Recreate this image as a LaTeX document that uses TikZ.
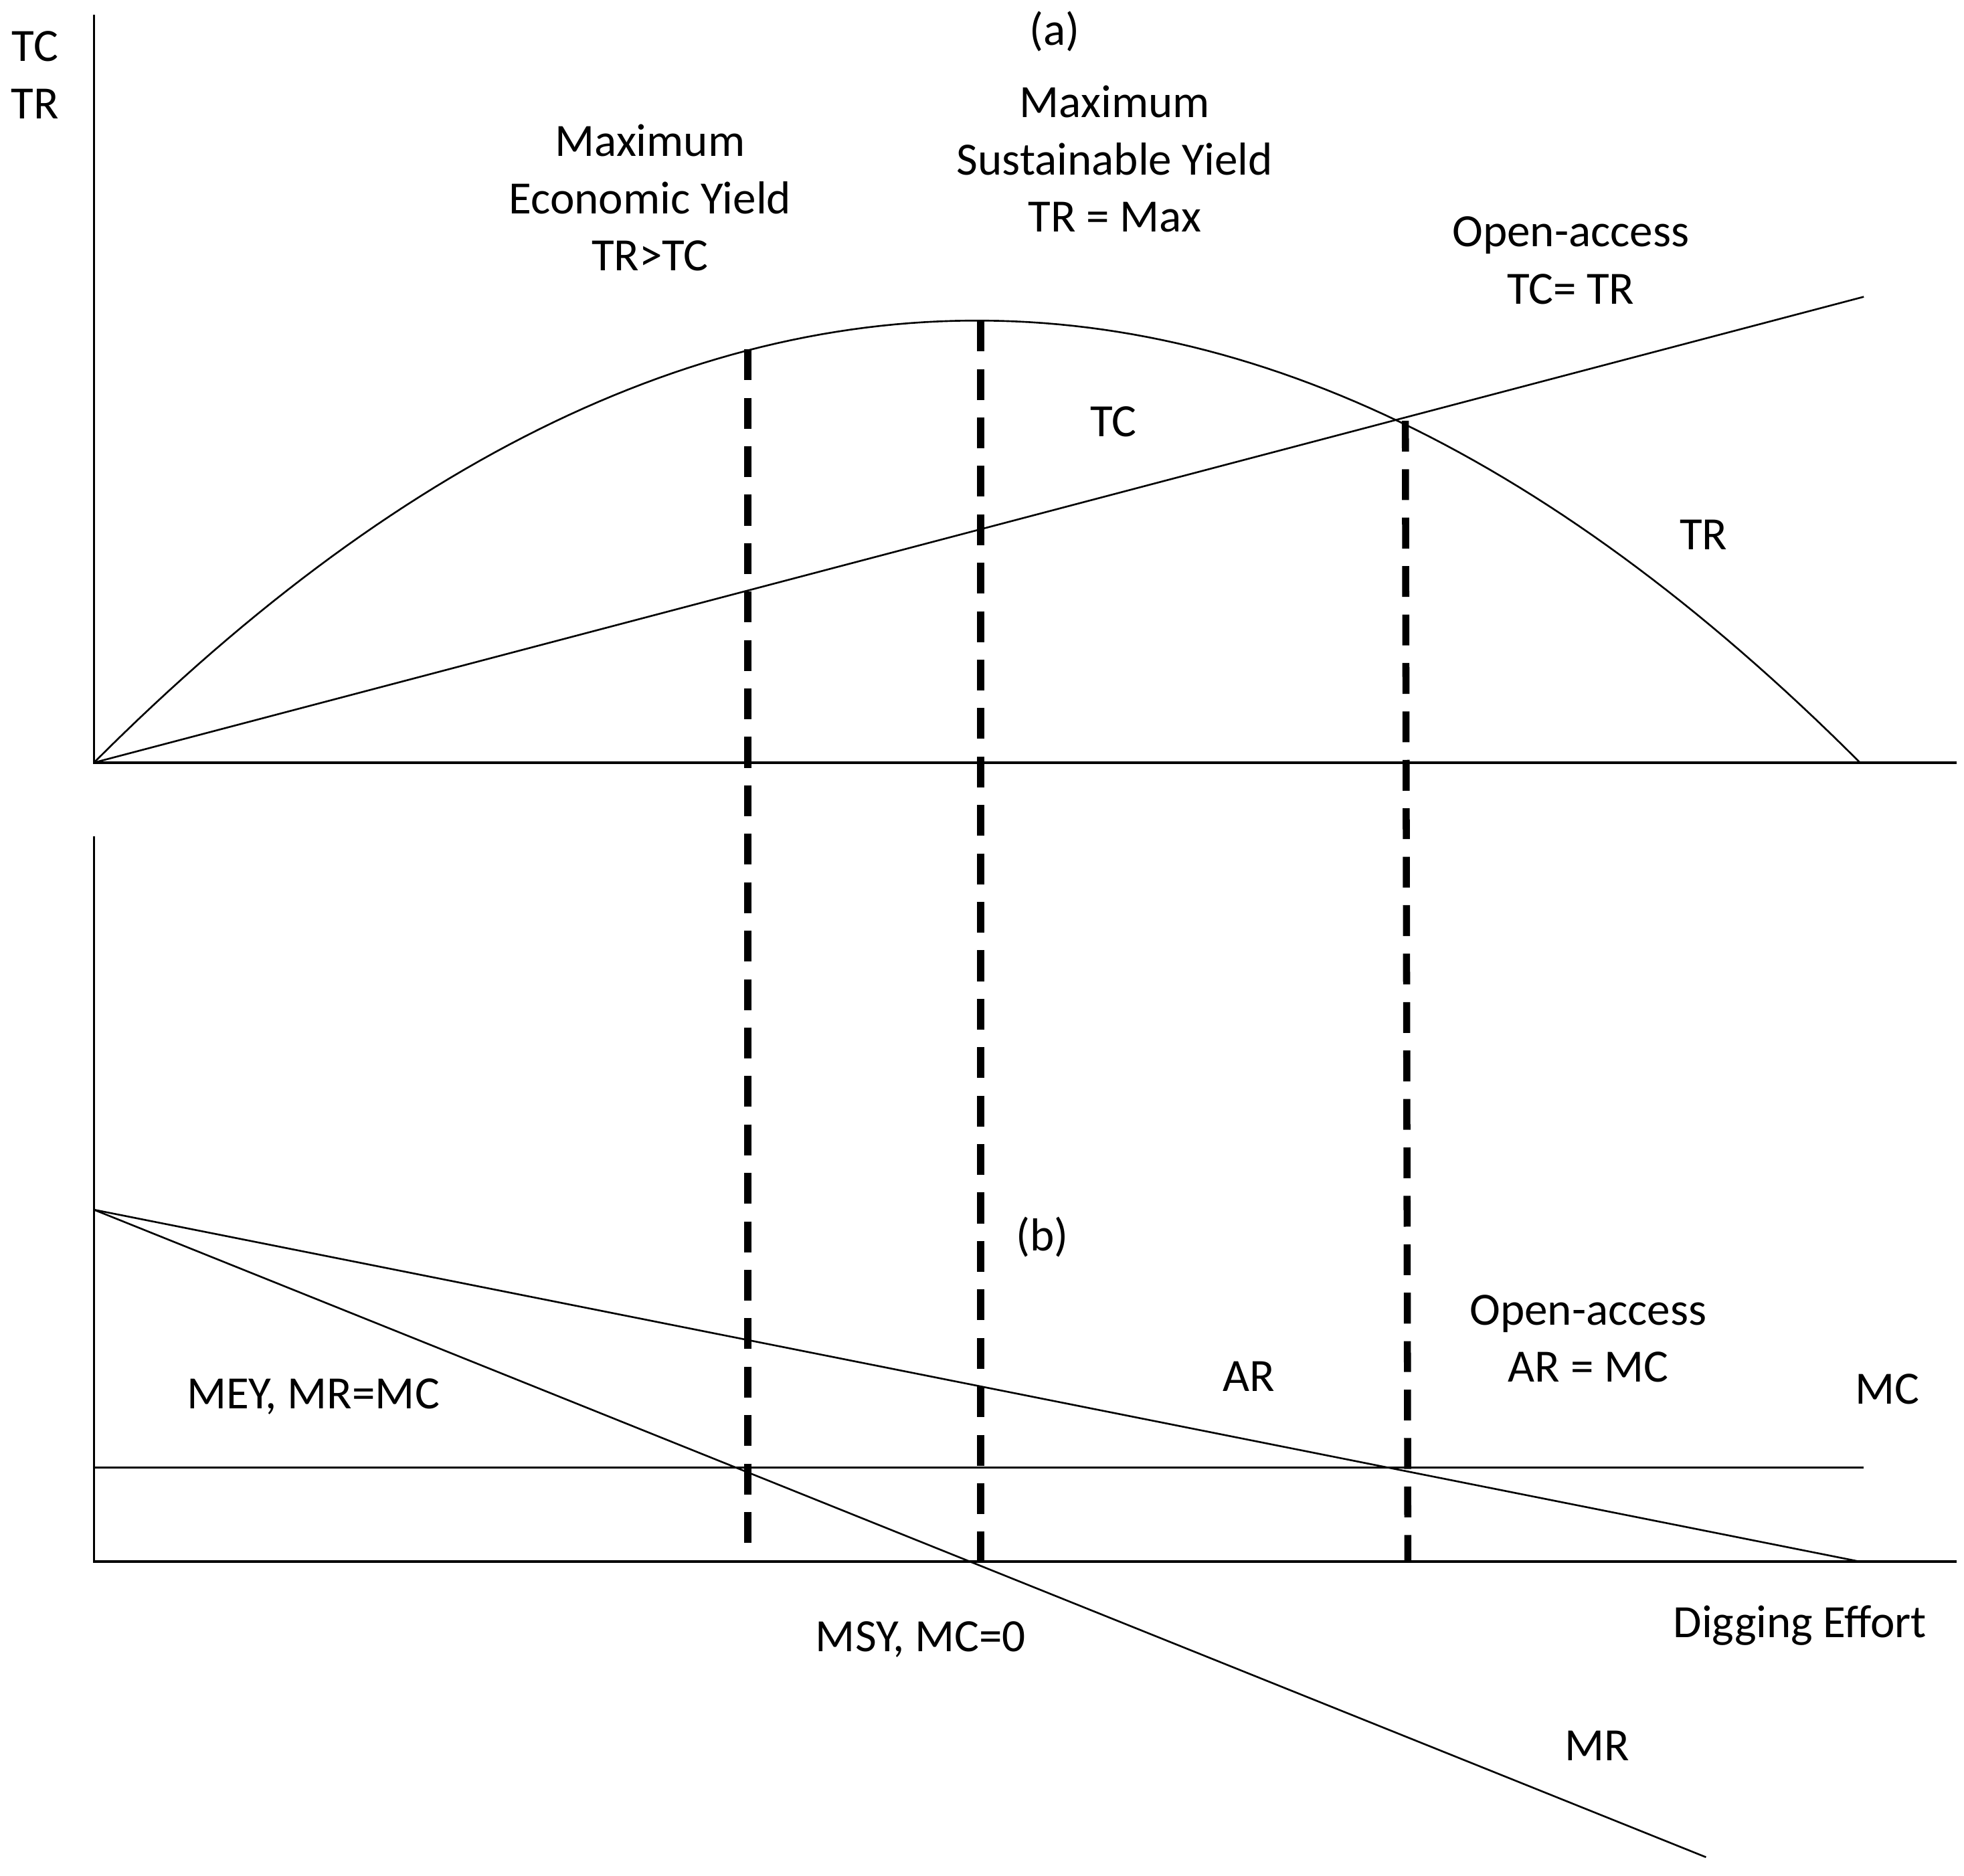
\documentclass[tikz,border=0pt]{standalone}
\usepackage{fontspec}
\setmainfont{Carlito}
\begin{document}
\begin{tikzpicture}[x=0.01cm,y=-0.01cm,
  ax/.style={line width=0.5pt},
  cv/.style={line width=0.4pt},
  dsh/.style={line width=1.6pt,dash pattern=on 7pt off 4pt},
  lb/.style={font=\fontsize{10.5}{13}\selectfont,align=center,inner sep=0pt}]
\useasboundingbox (0,0) rectangle (1568,1498);
% axes
\coordinate (o1) at (75,609);
\coordinate (t1) at (75,12);
\coordinate (e1) at (1562,609);
\draw[ax] (t1) -- (o1) -- (e1);
\coordinate (o2) at (75,1247);
\coordinate (t2) at (75,668);
\coordinate (e2) at (1562,1247);
\draw[ax] (t2) -- (o2) -- (e2);
% TR parabola
\draw[cv,domain=75:1485,samples=120,variable=\x] plot (\x,{256+353*((\x-780)/705)^2});
% TC
\coordinate (tcend) at (1488,237);
\draw[cv] (o1) -- (tcend);
% bottom lines
\coordinate (b0) at (75,966);
\coordinate (arend) at (1485,1247);
\coordinate (mrend) at (1362,1483);
\coordinate (mc0) at (75,1172);
\coordinate (mc1) at (1488,1172);
\draw[cv] (b0) -- (arend);
\draw[cv] (b0) -- (mrend);
\draw[cv] (mc0) -- (mc1);
% dashed verticals
\coordinate (d1a) at (597,279); \coordinate (d1b) at (597,1247);
\coordinate (d2a) at (783,256); \coordinate (d2b) at (783,1250);
\coordinate (d3a) at (1122,336); \coordinate (d3b) at (1124,1247);
\draw[dsh] (d1a) -- (d1b);
\draw[dsh] (d2a) -- (d2b);
\draw[dsh] (d3a) -- (d3b);
% labels
\node[lb] (ltc) at (28,37) {TC};
\node[lb] (ltr) at (28,83) {TR};
\node[lb] (la) at (842,25) {(a)};
\node[lb] (mey) at (519,158) {Maximum\\Economic Yield\\TR>TC};
\node[lb] (msy) at (890,127) {Maximum\\Sustainable Yield\\TR = Max};
\node[lb] (oa1) at (1254,208) {Open-access\\TC= TR};
\node[lb] (ctc) at (889,337) {TC};
\node[lb] (ctr) at (1360,427) {TR};
\node[lb] (lbb) at (832,988) {(b)};
\node[lb] (oa2) at (1268,1069) {Open-access\\AR = MC};
\node[lb] (car) at (997,1099) {AR};
\node[lb] (cmc) at (1507,1109) {MC};
\node[lb] (meyb) at (250,1115) {MEY, MR=MC};
\node[lb] (msyb) at (735,1309) {MSY, MC=0};
\node[lb] (dig) at (1437,1298) {Digging Effort};
\node[lb] (cmr) at (1275,1394) {MR};
\end{tikzpicture}
\end{document}
